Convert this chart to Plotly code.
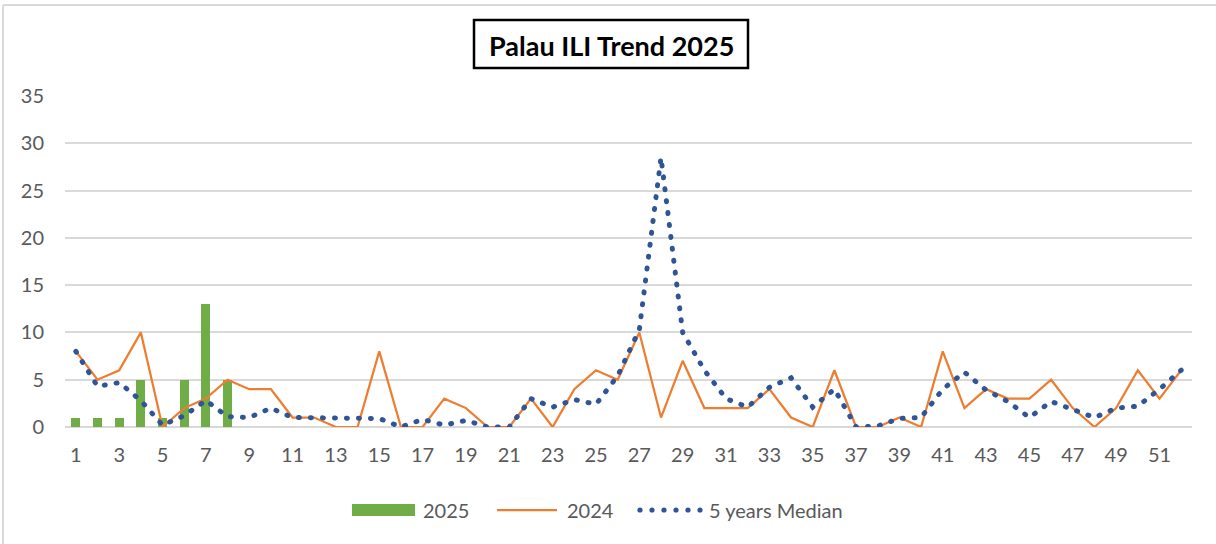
import plotly.graph_objects as go

weeks = list(range(1, 53))
weeks_2025 = [1, 2, 3, 4, 5, 6, 7, 8]
cases_2025 = [1, 1, 1, 5, 1, 5, 13, 5]
cases_2024 = [8, 5, 6, 10, 0, 2, 3, 5, 4, 4, 1, 1, 0, 0, 8, 0, 0, 3, 2, 0,
              0, 3, 0, 4, 6, 5, 10, 1, 7, 2, 2, 2, 4, 1, 0, 6, 0, 0, 1, 0,
              8, 2, 4, 3, 3, 5, 2, 0, 2, 6, 3, 6]
median_5y = [8, 4.3, 4.7, 2.8, 0.2, 1.2, 2.8, 1.1, 1, 2, 1, 1, 1, 1, 0.9, 0, 0.8, 0.2, 0.7, 0,
             0, 3, 2.1, 2.9, 2.4, 5.4, 10.3, 28.5, 10, 6, 3, 2.1, 4.2, 5.2, 2.1, 4, 0, 0.1, 0.9, 1,
             4, 5.8, 3.9, 2.7, 1, 2.7, 1.9, 1, 2, 2.2, 4, 6]
x_ticks = list(range(1, 52, 2))
y_ticks = [0, 5, 10, 15, 20, 25, 30, 35]
title_text = "Palau ILI Trend 2025"
legend_names = ["2025", "2024", "5 years Median"]

GREEN = "#70AD47"
ORANGE = "#ED7D31"
BLUE = "#2F5597"
GRID = "#D9D9D9"
TXT = "#595959"
FONT = "Lato"

fig = go.Figure()
fig.add_trace(go.Bar(x=weeks_2025, y=cases_2025, width=0.42, marker=dict(color=GREEN, line=dict(width=0)),
                     name=legend_names[0]))
fig.add_trace(go.Scatter(x=weeks, y=cases_2024, mode="lines", line=dict(color=ORANGE, width=2.25),
                         name=legend_names[1]))
fig.add_trace(go.Scatter(x=weeks, y=median_5y, mode="lines",
                         line=dict(color=BLUE, width=5, dash="1px,11px"), name=legend_names[2]))

W, H = 1216, 544
L, R, T, B = 65, 24, 96, 117
pw, ph = W - L - R, H - T - B

def px(xp):
    return (xp - L) / pw

def py(yp):
    return (H - B - yp) / ph

shapes = []
annotations = []
# outer frame (top and left edges visible)
shapes.append(dict(type="line", xref="paper", yref="paper", x0=px(3), x1=px(1216), y0=py(5), y1=py(5),
                   line=dict(color="#D9D9D9", width=2)))
shapes.append(dict(type="line", xref="paper", yref="paper", x0=px(3), x1=px(3), y0=py(5), y1=py(544),
                   line=dict(color="#D9D9D9", width=2)))
# title box
shapes.append(dict(type="rect", xref="paper", yref="paper", x0=px(474), x1=px(748), y0=py(68), y1=py(20),
                   line=dict(color="black", width=2.5), fillcolor="white"))
annotations.append(dict(text="<b>" + title_text + "</b>", xref="paper", yref="paper", x=px(611), y=py(45),
                        xanchor="center", yanchor="middle", showarrow=False,
                        font=dict(family=FONT, size=27, color="black")))
# custom legend
ly = py(510)
shapes.append(dict(type="rect", xref="paper", yref="paper", x0=px(352), x1=px(415), y0=py(516), y1=py(504),
                   line=dict(width=0), fillcolor=GREEN))
annotations.append(dict(text=legend_names[0], xref="paper", yref="paper", x=px(421), y=ly, xanchor="left",
                        yanchor="middle", showarrow=False, font=dict(family=FONT, size=20, color=TXT)))
shapes.append(dict(type="line", xref="paper", yref="paper", x0=px(497), x1=px(557), y0=ly, y1=ly,
                   line=dict(color=ORANGE, width=2.25)))
annotations.append(dict(text=legend_names[1], xref="paper", yref="paper", x=px(565), y=ly, xanchor="left",
                        yanchor="middle", showarrow=False, font=dict(family=FONT, size=20, color=TXT)))
for i in range(6):
    cx = 640 + i * 12
    shapes.append(dict(type="circle", xref="paper", yref="paper", x0=px(cx - 2.6), x1=px(cx + 2.6),
                       y0=py(510 + 2.6), y1=py(510 - 2.6), line=dict(width=0), fillcolor=BLUE))
annotations.append(dict(text=legend_names[2], xref="paper", yref="paper", x=px(707), y=ly, xanchor="left",
                        yanchor="middle", showarrow=False, font=dict(family=FONT, size=20, color=TXT)))

fig.update_layout(
    width=W, height=H,
    margin=dict(l=L, r=R, t=T, b=B, autoexpand=False),
    paper_bgcolor="white", plot_bgcolor="white",
    showlegend=False,
    bargap=0,
    shapes=shapes, annotations=annotations,
    font=dict(family=FONT, size=20, color=TXT),
)
fig.update_xaxes(range=[0.5, 52.5], tickvals=x_ticks, ticktext=[str(v) for v in x_ticks],
                 showgrid=False, showline=False, zeroline=False, ticks="",
                 ticklabelstandoff=14, tickfont=dict(family=FONT, size=20, color=TXT))
fig.update_yaxes(range=[0, 35], tickvals=y_ticks, showgrid=True, gridcolor=GRID, gridwidth=2,
                 zeroline=True, zerolinecolor=GRID, zerolinewidth=2, showline=False, ticks="",
                 ticklabelstandoff=20, tickfont=dict(family=FONT, size=20, color=TXT))

post = """
document.body.style.margin = '0';
document.body.style.overflow = 'hidden';
var fixCaps = function(){
  var traces = document.querySelectorAll('.scatterlayer .trace');
  if (traces.length > 1) {
    var paths = traces[1].querySelectorAll('path.js-line');
    paths.forEach(function(p){ p.style.strokeLinecap = 'round'; });
  }
};
fixCaps();
var gd = document.getElementsByClassName('plotly-graph-div')[0];
if (gd && gd.on) { gd.on('plotly_afterplot', fixCaps); }
"""
fig.write_html("out.html", post_script=post, config={"displayModeBar": False})
